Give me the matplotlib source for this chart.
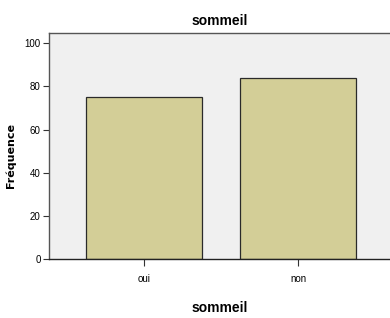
import matplotlib.pyplot as plt

categories = ["oui", "non"]
counts = [75, 84]

plt.rcParams['font.family'] = ['Liberation Sans Narrow', 'Liberation Sans', 'DejaVu Sans']

fig = plt.figure(figsize=(3.9, 3.18), dpi=100)
ax = fig.add_axes([49 / 390, 59 / 318, 1 - 49 / 390, 226 / 318])
ax.set_facecolor('#f0f0f0')

ax.bar(range(len(categories)), counts, width=0.75, color='#d3ce97',
       edgecolor='#2a2a2a', linewidth=0.9, zorder=2)

ax.set_xlim(-0.617, 1.597)
ax.set_ylim(0, 104.8)
ax.set_yticks([0, 20, 40, 60, 80, 100])
ax.set_xticks(range(len(categories)))
ax.set_xticklabels(categories)
ax.tick_params(axis='both', labelsize=7, length=4, width=0.8, color='#333333', pad=2)
ax.tick_params(axis='x', length=5, pad=6)

for side in ['top', 'left']:
    ax.spines[side].set_color('#555555')
    ax.spines[side].set_linewidth(1.0)
ax.spines['right'].set_visible(False)
ax.spines['bottom'].set_color('#222222')
ax.spines['bottom'].set_linewidth(1.0)

ax.set_title("sommeil", fontsize=10, fontweight='bold', pad=6)
ax.set_xlabel("sommeil", fontsize=10, fontweight='bold', labelpad=12)
ax.set_ylabel("Fréquence", fontsize=8, fontweight='bold', family=['DejaVu Sans'])
ax.yaxis.set_label_coords(-0.097, 0.46)

fig.savefig("out.png", dpi=100)
